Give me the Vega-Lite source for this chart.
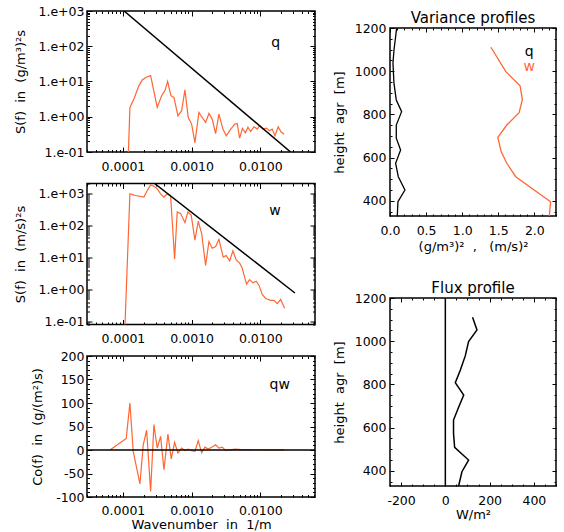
{
  "$schema": "https://vega.github.io/schema/vega-lite/v6.json",
  "background": "white",
  "padding": {"left": 13, "top": 4, "right": 5, "bottom": 2},
  "datasets": {
    "qspec": [
      {"k": 1.155e-4, "S": 0.01}, {"k": 1.264e-4, "S": 1.84}, {"k": 1.445e-4, "S": 3.19}, {"k": 1.710e-4, "S": 7.64},
      {"k": 1.910e-4, "S": 11.1}, {"k": 2.184e-4, "S": 13.2}, {"k": 2.530e-4, "S": 14.7}, {"k": 3.157e-4, "S": 1.84},
      {"k": 3.659e-4, "S": 3.96}, {"k": 4.087e-4, "S": 5.50}, {"k": 4.474e-4, "S": 10.1}, {"k": 4.996e-4, "S": 3.96},
      {"k": 5.525e-4, "S": 3.55}, {"k": 6.318e-4, "S": 1.07}, {"k": 7.152e-4, "S": 1.48}, {"k": 7.990e-4, "S": 5.77},
      {"k": 8.925e-4, "S": 0.955}, {"k": 1.0e-3, "S": 0.619}, {"k": 1.117e-3, "S": 0.185}, {"k": 1.277e-3, "S": 1.33},
      {"k": 1.427e-3, "S": 0.955}, {"k": 1.598e-3, "S": 0.689}, {"k": 1.786e-3, "S": 1.24}, {"k": 1.995e-3, "S": 0.859},
      {"k": 2.235e-3, "S": 0.334}, {"k": 2.496e-3, "S": 1.19}, {"k": 2.856e-3, "S": 0.447}, {"k": 3.191e-3, "S": 0.288},
      {"k": 3.698e-3, "S": 0.447}, {"k": 4.268e-3, "S": 0.619}, {"k": 4.611e-3, "S": 0.644}, {"k": 5.000e-3, "S": 0.247},
      {"k": 5.489e-3, "S": 0.470}, {"k": 6.067e-3, "S": 0.350}, {"k": 6.600e-3, "S": 0.502}, {"k": 7.225e-3, "S": 0.381},
      {"k": 8.070e-3, "S": 0.519}, {"k": 9.013e-3, "S": 0.447}, {"k": 9.768e-3, "S": 0.555}, {"k": 1.091e-2, "S": 0.447},
      {"k": 1.219e-2, "S": 0.476}, {"k": 1.366e-2, "S": 0.399}, {"k": 1.490e-2, "S": 0.447}, {"k": 1.632e-2, "S": 0.288},
      {"k": 1.822e-2, "S": 0.519}, {"k": 1.995e-2, "S": 0.374}, {"k": 2.228e-2, "S": 0.321}
    ],
    "qfit": [{"k": 1.04e-4, "S": 1000}, {"k": 0.0276, "S": 0.1}],
    "wspec": [
      {"k": 1.034e-4, "S": 0.01}, {"k": 1.264e-4, "S": 951}, {"k": 1.531e-4, "S": 843}, {"k": 2.022e-4, "S": 753},
      {"k": 2.258e-4, "S": 1203}, {"k": 2.530e-4, "S": 1804}, {"k": 2.826e-4, "S": 1644}, {"k": 3.157e-4, "S": 1357},
      {"k": 3.538e-4, "S": 951}, {"k": 3.953e-4, "S": 753}, {"k": 4.415e-4, "S": 951}, {"k": 4.946e-4, "S": 808},
      {"k": 5.656e-4, "S": 8.93}, {"k": 6.171e-4, "S": 259}, {"k": 6.917e-4, "S": 230}, {"k": 7.990e-4, "S": 121},
      {"k": 8.834e-4, "S": 259}, {"k": 9.867e-4, "S": 204}, {"k": 1.117e-3, "S": 34.4}, {"k": 1.248e-3, "S": 133},
      {"k": 1.399e-3, "S": 55.4}, {"k": 1.598e-3, "S": 5.58}, {"k": 1.786e-3, "S": 30.7}, {"k": 1.995e-3, "S": 19.1},
      {"k": 2.235e-3, "S": 21.5}, {"k": 2.496e-3, "S": 36.2}, {"k": 2.884e-3, "S": 10.1}, {"k": 3.191e-3, "S": 11.4},
      {"k": 3.573e-3, "S": 7.74}, {"k": 3.993e-3, "S": 15.8}, {"k": 4.460e-3, "S": 8.31}, {"k": 5.000e-3, "S": 6.58},
      {"k": 5.452e-3, "S": 4.61}, {"k": 5.772e-3, "S": 2.86}, {"k": 6.300e-3, "S": 1.45}, {"k": 6.987e-3, "S": 2.00},
      {"k": 7.805e-3, "S": 1.59}, {"k": 8.717e-3, "S": 1.79}, {"k": 9.541e-3, "S": 1.35}, {"k": 1.066e-2, "S": 0.692},
      {"k": 1.194e-2, "S": 0.520}, {"k": 1.412e-2, "S": 0.451}, {"k": 1.578e-2, "S": 0.451}, {"k": 1.762e-2, "S": 0.356},
      {"k": 1.975e-2, "S": 0.484}, {"k": 2.258e-2, "S": 0.255}
    ],
    "wfit": [{"k": 2.89e-4, "S": 2000}, {"k": 0.0319, "S": 0.77}],
    "cospec": [
      {"k": 6.47e-5, "C": 0}, {"k": 1.117e-4, "C": 24.7}, {"k": 1.264e-4, "C": 100}, {"k": 1.412e-4, "C": -3},
      {"k": 1.768e-4, "C": -72}, {"k": 1.975e-4, "C": 11}, {"k": 2.213e-4, "C": 42}, {"k": 2.530e-4, "C": -88},
      {"k": 2.826e-4, "C": 54}, {"k": 3.157e-4, "C": 4.3}, {"k": 3.538e-4, "C": 29}, {"k": 3.953e-4, "C": -42},
      {"k": 4.519e-4, "C": 34}, {"k": 5.047e-4, "C": -19}, {"k": 5.656e-4, "C": 16}, {"k": 6.318e-4, "C": -6.4},
      {"k": 7.152e-4, "C": 4.3}, {"k": 7.990e-4, "C": -1}, {"k": 8.925e-4, "C": 2}, {"k": 1.0e-3, "C": -1.5},
      {"k": 1.117e-3, "C": -3}, {"k": 1.248e-3, "C": 20}, {"k": 1.399e-3, "C": -6}, {"k": 1.562e-3, "C": 6},
      {"k": 1.744e-3, "C": 2}, {"k": 1.954e-3, "C": 6}, {"k": 2.235e-3, "C": 11}, {"k": 2.496e-3, "C": 4},
      {"k": 2.789e-3, "C": 6}, {"k": 3.125e-3, "C": -1}, {"k": 3.491e-3, "C": 0}, {"k": 4.268e-3, "C": 2},
      {"k": 5.343e-3, "C": 1}, {"k": 6.600e-3, "C": 1}, {"k": 8.070e-3, "C": 0.5}, {"k": 9.867e-3, "C": 0.5},
      {"k": 1.219e-2, "C": 0.3}, {"k": 1.490e-2, "C": 0.3}, {"k": 1.822e-2, "C": 0.5}, {"k": 2.228e-2, "C": 0.2}
    ],
    "var": [
      {"var": "q", "h": 1198, "v": 0.092}, {"var": "q", "h": 1098, "v": 0.055}, {"var": "q", "h": 1037, "v": 0.041},
      {"var": "q", "h": 944, "v": 0.055}, {"var": "q", "h": 867, "v": 0.087}, {"var": "q", "h": 813, "v": 0.161},
      {"var": "q", "h": 751, "v": 0.087}, {"var": "q", "h": 690, "v": 0.087}, {"var": "q", "h": 635, "v": 0.147},
      {"var": "q", "h": 574, "v": 0.078}, {"var": "q", "h": 512, "v": 0.115}, {"var": "q", "h": 450, "v": 0.207},
      {"var": "q", "h": 396, "v": 0.110}, {"var": "q", "h": 330, "v": 0.101},
      {"var": "w", "h": 1111, "v": 1.398}, {"var": "w", "h": 998, "v": 1.605}, {"var": "w", "h": 932, "v": 1.802},
      {"var": "w", "h": 870, "v": 1.834}, {"var": "w", "h": 808, "v": 1.789}, {"var": "w", "h": 751, "v": 1.618},
      {"var": "w", "h": 694, "v": 1.494}, {"var": "w", "h": 628, "v": 1.540}, {"var": "w", "h": 574, "v": 1.618},
      {"var": "w", "h": 512, "v": 1.742}, {"var": "w", "h": 396, "v": 2.225}, {"var": "w", "h": 330, "v": 2.207}
    ],
    "varlab": [{"var": "q", "h": 1090, "v": 1.93}, {"var": "w", "h": 1021, "v": 1.93}],
    "flux": [
      {"h": 1111, "F": 123}, {"h": 1052, "F": 143}, {"h": 998, "F": 105}, {"h": 932, "F": 90}, {"h": 867, "F": 68},
      {"h": 808, "F": 45}, {"h": 751, "F": 83}, {"h": 694, "F": 60}, {"h": 635, "F": 37}, {"h": 574, "F": 37},
      {"h": 509, "F": 42}, {"h": 450, "F": 105}, {"h": 396, "F": 75}, {"h": 330, "F": 60}
    ]
  },
  "hconcat": [
    {
      "vconcat": [
        {
          "width": 228, "height": 141,
          "layer": [
            {"data": {"name": "qspec"}, "mark": {"type": "line", "color": "#ff6633", "strokeWidth": 1.2, "clip": true},
             "encoding": {
               "x": {"field": "k", "type": "quantitative", "scale": {"type": "log", "domain": [3e-5, 0.0625], "nice": false},
                     "axis": {"orient": "bottom", "title": null, "values": [3e-5,4e-5,5e-5,6e-5,7e-5,8e-5,9e-5,1e-4,2e-4,3e-4,4e-4,5e-4,6e-4,7e-4,8e-4,9e-4,1e-3,2e-3,3e-3,4e-3,5e-3,6e-3,7e-3,8e-3,9e-3,1e-2,2e-2,3e-2,4e-2,5e-2,6e-2],
                              "labelExpr": "abs(log(datum.value)/LN10 - round(log(datum.value)/LN10)) < 0.01 ? format(datum.value, '.4f') : ''",
                              "tickSize": {"condition": {"test": "abs(log(datum.value)/LN10 - round(log(datum.value)/LN10)) < 0.01", "value": -5}, "value": -2.5},
                              "labelPadding": 13, "labelOverlap": false, "labelFlush": false}},
               "y": {"field": "S", "type": "quantitative", "scale": {"type": "log", "domain": [0.1, 1000], "nice": false},
                     "axis": {"orient": "left", "title": "S(f)\u00a0\u00a0in\u00a0\u00a0(g/m³)²s", "titlePadding": 11,
                              "values": [0.1,0.2,0.3,0.4,0.5,0.6,0.7,0.8,0.9,1,2,3,4,5,6,7,8,9,10,20,30,40,50,60,70,80,90,100,200,300,400,500,600,700,800,900,1000],
                              "labelExpr": "abs(log(datum.value)/LN10 - round(log(datum.value)/LN10)) < 0.01 ? ('1.e' + (datum.value < 1 ? '-0' : '+0') + abs(round(log(datum.value)/LN10))) : ''",
                              "tickSize": {"condition": {"test": "abs(log(datum.value)/LN10 - round(log(datum.value)/LN10)) < 0.01", "value": -5}, "value": -2.5},
                              "labelPadding": 8, "labelOverlap": false, "labelFlush": false}}
             }},
            {"data": {"name": "qfit"}, "mark": {"type": "line", "color": "black", "strokeWidth": 1.5, "clip": true},
             "encoding": {
               "x": {"field": "k", "type": "quantitative", "scale": {"type": "log", "domain": [3e-5, 0.0625], "nice": false}, "axis": null},
               "y": {"field": "S", "type": "quantitative", "scale": {"type": "log", "domain": [0.1, 1000], "nice": false}, "axis": null}
             }},
            {"data": {"values": [{"k": 0.0168, "S": 125, "label": "q"}]}, "mark": {"type": "text", "fontSize": 14, "color": "black"},
             "encoding": {
               "x": {"field": "k", "type": "quantitative", "scale": {"type": "log", "domain": [3e-5, 0.0625], "nice": false},
                     "axis": {"orient": "top", "title": null, "labels": false, "values": [3e-5,4e-5,5e-5,6e-5,7e-5,8e-5,9e-5,1e-4,2e-4,3e-4,4e-4,5e-4,6e-4,7e-4,8e-4,9e-4,1e-3,2e-3,3e-3,4e-3,5e-3,6e-3,7e-3,8e-3,9e-3,1e-2,2e-2,3e-2,4e-2,5e-2,6e-2],
                              "tickSize": {"condition": {"test": "abs(log(datum.value)/LN10 - round(log(datum.value)/LN10)) < 0.01", "value": -5}, "value": -2.5}}},
               "y": {"field": "S", "type": "quantitative", "scale": {"type": "log", "domain": [0.1, 1000], "nice": false},
                     "axis": {"orient": "right", "title": null, "labels": false, "values": [0.1,0.2,0.3,0.4,0.5,0.6,0.7,0.8,0.9,1,2,3,4,5,6,7,8,9,10,20,30,40,50,60,70,80,90,100,200,300,400,500,600,700,800,900,1000],
                              "tickSize": {"condition": {"test": "abs(log(datum.value)/LN10 - round(log(datum.value)/LN10)) < 0.01", "value": -5}, "value": -2.5}}},
               "text": {"field": "label"}
             }}
          ]
        },
        {
          "width": 228, "height": 141,
          "layer": [
            {"data": {"name": "wspec"}, "mark": {"type": "line", "color": "#ff6633", "strokeWidth": 1.2, "clip": true},
             "encoding": {
               "x": {"field": "k", "type": "quantitative", "scale": {"type": "log", "domain": [3e-5, 0.0625], "nice": false},
                     "axis": {"orient": "bottom", "title": null, "values": [3e-5,4e-5,5e-5,6e-5,7e-5,8e-5,9e-5,1e-4,2e-4,3e-4,4e-4,5e-4,6e-4,7e-4,8e-4,9e-4,1e-3,2e-3,3e-3,4e-3,5e-3,6e-3,7e-3,8e-3,9e-3,1e-2,2e-2,3e-2,4e-2,5e-2,6e-2],
                              "labelExpr": "abs(log(datum.value)/LN10 - round(log(datum.value)/LN10)) < 0.01 ? format(datum.value, '.4f') : ''",
                              "tickSize": {"condition": {"test": "abs(log(datum.value)/LN10 - round(log(datum.value)/LN10)) < 0.01", "value": -5}, "value": -2.5},
                              "labelPadding": 13, "labelOverlap": false, "labelFlush": false}},
               "y": {"field": "S", "type": "quantitative", "scale": {"type": "log", "domain": [0.08, 2000], "nice": false},
                     "axis": {"orient": "left", "title": "S(f)\u00a0\u00a0in\u00a0\u00a0(m/s)²s", "titlePadding": 11,
                              "values": [0.08,0.09,0.1,0.2,0.3,0.4,0.5,0.6,0.7,0.8,0.9,1,2,3,4,5,6,7,8,9,10,20,30,40,50,60,70,80,90,100,200,300,400,500,600,700,800,900,1000,2000],
                              "labelExpr": "abs(log(datum.value)/LN10 - round(log(datum.value)/LN10)) < 0.01 ? ('1.e' + (datum.value < 1 ? '-0' : '+0') + abs(round(log(datum.value)/LN10))) : ''",
                              "tickSize": {"condition": {"test": "abs(log(datum.value)/LN10 - round(log(datum.value)/LN10)) < 0.01", "value": -5}, "value": -2.5},
                              "labelPadding": 8, "labelOverlap": false, "labelFlush": false}}
             }},
            {"data": {"name": "wfit"}, "mark": {"type": "line", "color": "black", "strokeWidth": 1.5, "clip": true},
             "encoding": {
               "x": {"field": "k", "type": "quantitative", "scale": {"type": "log", "domain": [3e-5, 0.0625], "nice": false}, "axis": null},
               "y": {"field": "S", "type": "quantitative", "scale": {"type": "log", "domain": [0.08, 2000], "nice": false}, "axis": null}
             }},
            {"data": {"values": [{"k": 0.0163, "S": 270, "label": "w"}]}, "mark": {"type": "text", "fontSize": 14, "color": "black"},
             "encoding": {
               "x": {"field": "k", "type": "quantitative", "scale": {"type": "log", "domain": [3e-5, 0.0625], "nice": false},
                     "axis": {"orient": "top", "title": null, "labels": false, "values": [3e-5,4e-5,5e-5,6e-5,7e-5,8e-5,9e-5,1e-4,2e-4,3e-4,4e-4,5e-4,6e-4,7e-4,8e-4,9e-4,1e-3,2e-3,3e-3,4e-3,5e-3,6e-3,7e-3,8e-3,9e-3,1e-2,2e-2,3e-2,4e-2,5e-2,6e-2],
                              "tickSize": {"condition": {"test": "abs(log(datum.value)/LN10 - round(log(datum.value)/LN10)) < 0.01", "value": -5}, "value": -2.5}}},
               "y": {"field": "S", "type": "quantitative", "scale": {"type": "log", "domain": [0.08, 2000], "nice": false},
                     "axis": {"orient": "right", "title": null, "labels": false, "values": [0.08,0.09,0.1,0.2,0.3,0.4,0.5,0.6,0.7,0.8,0.9,1,2,3,4,5,6,7,8,9,10,20,30,40,50,60,70,80,90,100,200,300,400,500,600,700,800,900,1000,2000],
                              "tickSize": {"condition": {"test": "abs(log(datum.value)/LN10 - round(log(datum.value)/LN10)) < 0.01", "value": -5}, "value": -2.5}}},
               "text": {"field": "label"}
             }}
          ]
        },
        {
          "width": 228, "height": 141,
          "layer": [
            {"data": {"name": "cospec"}, "mark": {"type": "line", "color": "#ff6633", "strokeWidth": 1.2, "clip": true},
             "encoding": {
               "x": {"field": "k", "type": "quantitative", "scale": {"type": "log", "domain": [3e-5, 0.0625], "nice": false},
                     "axis": {"orient": "bottom", "title": "Wavenumber\u00a0\u00a0in\u00a0\u00a01/m", "titlePadding": -1, "values": [3e-5,4e-5,5e-5,6e-5,7e-5,8e-5,9e-5,1e-4,2e-4,3e-4,4e-4,5e-4,6e-4,7e-4,8e-4,9e-4,1e-3,2e-3,3e-3,4e-3,5e-3,6e-3,7e-3,8e-3,9e-3,1e-2,2e-2,3e-2,4e-2,5e-2,6e-2],
                              "labelExpr": "abs(log(datum.value)/LN10 - round(log(datum.value)/LN10)) < 0.01 ? format(datum.value, '.4f') : ''",
                              "tickSize": {"condition": {"test": "abs(log(datum.value)/LN10 - round(log(datum.value)/LN10)) < 0.01", "value": -5}, "value": -2.5},
                              "labelPadding": 12, "labelOverlap": false, "labelFlush": false}},
               "y": {"field": "C", "type": "quantitative", "scale": {"domain": [-100, 200], "nice": false, "zero": false},
                     "axis": {"orient": "left", "title": "Co(f)\u00a0\u00a0in\u00a0\u00a0(g/(m²)s)", "titlePadding": 11,
                              "values": [-100,-90,-80,-70,-60,-50,-40,-30,-20,-10,0,10,20,30,40,50,60,70,80,90,100,110,120,130,140,150,160,170,180,190,200],
                              "labelExpr": "datum.value % 50 == 0 ? '' + datum.value : ''",
                              "tickSize": {"condition": {"test": "datum.value % 50 == 0", "value": -5}, "value": -2.5},
                              "labelPadding": 8, "labelOverlap": false, "labelFlush": false}}
             }},
            {"data": {"values": [{"C": 0}]}, "mark": {"type": "rule", "color": "black", "strokeWidth": 1.5},
             "encoding": {"y": {"field": "C", "type": "quantitative", "scale": {"domain": [-100, 200], "nice": false, "zero": false}, "axis": null}}},
            {"data": {"values": [{"k": 0.0192, "C": 139, "label": "qw"}]}, "mark": {"type": "text", "fontSize": 14, "color": "black"},
             "encoding": {
               "x": {"field": "k", "type": "quantitative", "scale": {"type": "log", "domain": [3e-5, 0.0625], "nice": false},
                     "axis": {"orient": "top", "title": null, "labels": false, "values": [3e-5,4e-5,5e-5,6e-5,7e-5,8e-5,9e-5,1e-4,2e-4,3e-4,4e-4,5e-4,6e-4,7e-4,8e-4,9e-4,1e-3,2e-3,3e-3,4e-3,5e-3,6e-3,7e-3,8e-3,9e-3,1e-2,2e-2,3e-2,4e-2,5e-2,6e-2],
                              "tickSize": {"condition": {"test": "abs(log(datum.value)/LN10 - round(log(datum.value)/LN10)) < 0.01", "value": -5}, "value": -2.5}}},
               "y": {"field": "C", "type": "quantitative", "scale": {"domain": [-100, 200], "nice": false, "zero": false},
                     "axis": {"orient": "right", "title": null, "labels": false, "values": [-100,-90,-80,-70,-60,-50,-40,-30,-20,-10,0,10,20,30,40,50,60,70,80,90,100,110,120,130,140,150,160,170,180,190,200],
                              "tickSize": {"condition": {"test": "datum.value % 50 == 0", "value": -5}, "value": -2.5}}},
               "text": {"field": "label"}
             }}
          ]
        }
      ],
      "spacing": 31.5,
      "bounds": "flush"
    },
    {
      "vconcat": [
        {"width": 166, "height": 1, "view": {"stroke": null}, "data": {"values": []}, "mark": "point", "encoding": {}},
        {
          "vconcat": [
            {
              "width": 166, "height": 188,
              "title": {"text": "Variance profiles", "offset": -4},
              "layer": [
                {"data": {"name": "var"}, "mark": {"type": "line", "strokeWidth": 1.3, "clip": true},
                 "encoding": {
                   "x": {"field": "v", "type": "quantitative", "scale": {"domain": [0, 2.3], "nice": false, "zero": false},
                         "axis": {"orient": "bottom", "title": "(g/m³)²\u00a0\u00a0,\u00a0\u00a0\u00a0(m/s)²", "titlePadding": 2,
                                  "values": [0,0.1,0.2,0.3,0.4,0.5,0.6,0.7,0.8,0.9,1,1.1,1.2,1.3,1.4,1.5,1.6,1.7,1.8,1.9,2,2.1,2.2,2.3],
                                  "labelExpr": "abs(datum.value*2 - round(datum.value*2)) < 0.001 ? format(datum.value, '.1f') : ''",
                                  "tickSize": {"condition": {"test": "abs(datum.value*2 - round(datum.value*2)) < 0.001", "value": -4}, "value": -2},
                                  "labelPadding": 12, "labelOverlap": false, "labelFlush": false}},
                   "y": {"field": "h", "type": "quantitative", "scale": {"domain": [330, 1200], "nice": false, "zero": false},
                         "axis": {"orient": "left", "title": "height\u00a0\u00a0agr\u00a0\u00a0[m]", "titlePadding": 8,
                                  "values": [350,400,450,500,550,600,650,700,750,800,850,900,950,1000,1050,1100,1150,1200],
                                  "labelExpr": "datum.value % 200 == 0 ? '' + datum.value : ''",
                                  "tickSize": {"condition": {"test": "datum.value % 200 == 0", "value": -4}, "value": -2},
                                  "labelPadding": 8, "labelOverlap": false, "labelFlush": false}},
                   "color": {"field": "var", "type": "nominal", "scale": {"domain": ["q", "w"], "range": ["black", "#ff6633"]}, "legend": null},
                   "order": {"field": "h", "type": "quantitative"}
                 }},
                {"data": {"name": "varlab"}, "mark": {"type": "text", "fontSize": 14},
                 "encoding": {
                   "x": {"field": "v", "type": "quantitative", "scale": {"domain": [0, 2.3], "nice": false, "zero": false},
                         "axis": {"orient": "top", "title": null, "labels": false,
                                  "values": [0,0.1,0.2,0.3,0.4,0.5,0.6,0.7,0.8,0.9,1,1.1,1.2,1.3,1.4,1.5,1.6,1.7,1.8,1.9,2,2.1,2.2,2.3],
                                  "tickSize": {"condition": {"test": "abs(datum.value*2 - round(datum.value*2)) < 0.001", "value": -4}, "value": -2}}},
                   "y": {"field": "h", "type": "quantitative", "scale": {"domain": [330, 1200], "nice": false, "zero": false},
                         "axis": {"orient": "right", "title": null, "labels": false,
                                  "values": [350,400,450,500,550,600,650,700,750,800,850,900,950,1000,1050,1100,1150,1200],
                                  "tickSize": {"condition": {"test": "datum.value % 200 == 0", "value": -4}, "value": -2}}},
                   "text": {"field": "var"},
                   "color": {"field": "var", "type": "nominal", "scale": {"domain": ["q", "w"], "range": ["black", "#ff6633"]}, "legend": null}
                 }}
              ]
            },
            {
              "width": 166, "height": 188,
              "title": {"text": "Flux profile", "offset": -4},
              "layer": [
                {"data": {"name": "flux"}, "mark": {"type": "line", "color": "black", "strokeWidth": 1.5, "clip": true},
                 "encoding": {
                   "x": {"field": "F", "type": "quantitative", "scale": {"domain": [-250, 500], "nice": false, "zero": false},
                         "axis": {"orient": "bottom", "title": "W/m²", "titlePadding": 0,
                                  "values": [-250,-200,-150,-100,-50,0,50,100,150,200,250,300,350,400,450,500],
                                  "labelExpr": "datum.value % 200 == 0 ? '' + datum.value : ''",
                                  "tickSize": {"condition": {"test": "datum.value % 200 == 0", "value": -4}, "value": -2},
                                  "labelPadding": 12, "labelOverlap": false, "labelFlush": false}},
                   "y": {"field": "h", "type": "quantitative", "scale": {"domain": [330, 1200], "nice": false, "zero": false},
                         "axis": {"orient": "left", "title": "height\u00a0\u00a0agr\u00a0\u00a0[m]", "titlePadding": 8,
                                  "values": [350,400,450,500,550,600,650,700,750,800,850,900,950,1000,1050,1100,1150,1200],
                                  "labelExpr": "datum.value % 200 == 0 ? '' + datum.value : ''",
                                  "tickSize": {"condition": {"test": "datum.value % 200 == 0", "value": -4}, "value": -2},
                                  "labelPadding": 8, "labelOverlap": false, "labelFlush": false}},
                   "order": {"field": "h", "type": "quantitative"}
                 }},
                {"data": {"values": [{"F": 0, "h1": 330, "h2": 1200}]}, "mark": {"type": "rule", "color": "black", "strokeWidth": 1.5},
                 "encoding": {
                   "x": {"field": "F", "type": "quantitative", "scale": {"domain": [-250, 500], "nice": false, "zero": false},
                         "axis": {"orient": "top", "title": null, "labels": false,
                                  "values": [-250,-200,-150,-100,-50,0,50,100,150,200,250,300,350,400,450,500],
                                  "tickSize": {"condition": {"test": "datum.value % 200 == 0", "value": -4}, "value": -2}}},
                   "y": {"field": "h1", "type": "quantitative", "scale": {"domain": [330, 1200], "nice": false, "zero": false},
                         "axis": {"orient": "right", "title": null, "labels": false,
                                  "values": [350,400,450,500,550,600,650,700,750,800,850,900,950,1000,1050,1100,1150,1200],
                                  "tickSize": {"condition": {"test": "datum.value % 200 == 0", "value": -4}, "value": -2}}},
                   "y2": {"field": "h2"}
                 }}
              ]
            }
          ],
          "spacing": 82,
          "bounds": "flush"
        }
      ],
      "spacing": 16,
      "bounds": "flush"
    }
  ],
  "spacing": 303,
  "bounds": "flush",
  "config": {
    "font": "DejaVu Sans",
    "view": {"stroke": "black", "strokeWidth": 1.5},
    "axis": {"domain": false, "grid": false, "tickColor": "black", "labelColor": "black", "titleColor": "black",
             "labelFont": "DejaVu Sans", "titleFont": "DejaVu Sans", "labelFontSize": 12.5, "titleFontSize": 13, "titleFontWeight": "normal"},
    "title": {"font": "DejaVu Sans", "fontSize": 15, "fontWeight": "normal", "color": "black"},
    "text": {"font": "DejaVu Sans"}
  }
}
